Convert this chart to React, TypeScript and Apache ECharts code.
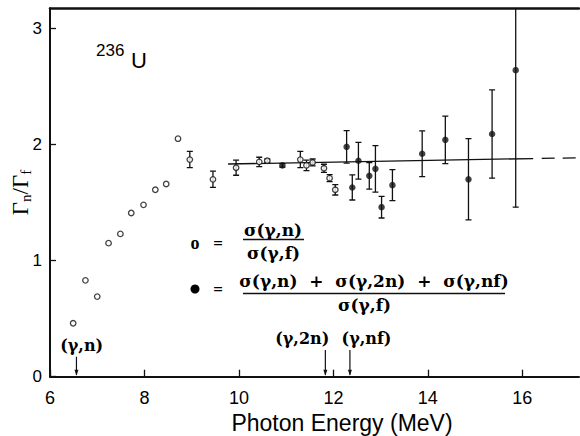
import React, { useEffect, useRef } from "react";
import * as echarts from "echarts";

// Open circles: sigma(g,n)/sigma(g,f)
const openX = [6.49, 6.75, 7.0, 7.24, 7.49, 7.72, 7.98, 8.23, 8.46, 8.71, 8.96, 9.45, 9.94, 10.43, 10.6, 11.3, 11.43, 11.56, 11.8, 11.92, 12.04];
const openY = [0.46, 0.83, 0.69, 1.15, 1.23, 1.41, 1.48, 1.61, 1.66, 2.05, 1.87, 1.7, 1.8, 1.85, 1.86, 1.87, 1.82, 1.845, 1.795, 1.71, 1.61];
const openErr = [0, 0, 0, 0, 0, 0, 0, 0, 0, 0, 0.07, 0.07, 0.065, 0.04, 0.015, 0.07, 0.045, 0.03, 0.035, 0.03, 0.045];

// Filled circles: [sigma(g,n)+sigma(g,2n)+sigma(g,nf)]/sigma(g,f)
const filledX = [10.92, 12.28, 12.4, 12.53, 12.76, 12.89, 13.02, 13.25, 13.88, 14.37, 14.86, 15.36, 15.86];
const filledY = [1.82, 1.98, 1.63, 1.86, 1.73, 1.79, 1.46, 1.65, 1.92, 2.04, 1.7, 2.09, 2.64];
const filledErr = [0.015, 0.14, 0.108, 0.158, 0.115, 0.2, 0.093, 0.134, 0.197, 0.205, 0.35, 0.38, 1.18];

// Fitted line (solid part, dashed extrapolation)
const fitSolid = [[9.77, 1.832], [16.23, 1.879]];
const fitDashed = [[16.41, 1.88], [17.14, 1.885]];

// Threshold annotations
const annoText = ["(γ,n)", "(γ,2n)", "(γ,nf)"];
const annoTextX = [6.67, 11.34, 12.7];
const annoTextY = [0.273, 0.33, 0.33];
const arrowX = [6.56, 11.83, 12.35];
const arrowTop = [0.172, 0.23, 0.23];

const xTicks = [6, 8, 10, 12, 14, 16];
const yTicks = [0, 1, 2, 3];
const X_MIN = 6;
const X_MAX = 17.2;
const Y_MIN = 0;
const Y_MAX = 3.173;

const INK = "#111";
const SERIF_B = "bold 17px 'DejaVu Serif'";

function errRender(params: any, api: any) {
  const x = api.value(0);
  const y = api.value(1);
  const e = api.value(2);
  if (!e) return null;
  const top = api.coord([x, y + e]);
  const bot = api.coord([x, y - e]);
  const w = 3;
  const st = { stroke: INK, lineWidth: 1.3 };
  return {
    type: "group",
    children: [
      { type: "line", shape: { x1: top[0], y1: top[1], x2: bot[0], y2: bot[1] }, style: st },
      { type: "line", shape: { x1: top[0] - w, y1: top[1], x2: top[0] + w, y2: top[1] }, style: st },
      { type: "line", shape: { x1: bot[0] - w, y1: bot[1], x2: bot[0] + w, y2: bot[1] }, style: st },
    ],
  };
}

export default function App() {
  const ref = useRef<HTMLDivElement>(null);
  useEffect(() => {
    if (!ref.current) return;
    const chart = echarts.init(ref.current, null, { renderer: "svg" });
    const openData = openX.map((x, i) => [x, openY[i], openErr[i]]);
    const filledData = filledX.map((x, i) => [x, filledY[i], filledErr[i]]);
    const arrowData = arrowX.map((x, i) => [x, arrowTop[i]]);
    const annoData = annoTextX.map((x, i) => [x, annoTextY[i]]);

    chart.setOption({
      animation: false,
      backgroundColor: "#fff",
      grid: { left: 50, top: 8.3, width: 529, height: 368.4, containLabel: false, outerBoundsMode: "none" },
      xAxis: [
        {
          type: "value",
          min: X_MIN,
          max: X_MAX,
          interval: 2,
          axisLine: { show: true, lineStyle: { color: INK, width: 2 } },
          axisTick: { show: true, inside: true, length: 7, lineStyle: { color: INK, width: 1.3 }, customValues: xTicks },
          axisLabel: {
            show: true,
            customValues: xTicks,
            margin: 12,
            color: "#000",
            fontFamily: "Liberation Sans",
            fontSize: 18,
          },
          splitLine: { show: false },
        },
        {
          type: "value",
          position: "top",
          min: X_MIN,
          max: X_MAX,
          axisLine: { show: true, onZero: false, lineStyle: { color: INK, width: 2.5 } },
          axisTick: { show: false },
          axisLabel: { show: false },
          splitLine: { show: false },
        },
      ],
      yAxis: {
        type: "value",
        min: Y_MIN,
        max: Y_MAX,
        interval: 1,
        name: "{g|Γ}{s|n}{g|/Γ}{s|f}",
        nameLocation: "middle",
        nameGap: 17,
        nameMoveOverlap: false,
        nameRotate: 90,
        nameTextStyle: {
          color: "#000",
          rich: {
            g: { fontFamily: "Liberation Serif", fontSize: 23, color: "#000" },
            s: { fontFamily: "Liberation Serif", fontSize: 15, color: "#000", padding: [10, 0, 0, 0] },
          },
        },
        axisLine: { show: true, lineStyle: { color: INK, width: 2 } },
        axisTick: { show: true, inside: true, length: 6, lineStyle: { color: INK, width: 1.3 }, customValues: yTicks },
        axisLabel: {
          show: true,
          customValues: yTicks,
          margin: 8,
          color: "#000",
          fontFamily: "Liberation Sans",
          fontSize: 17,
        },
        splitLine: { show: false },
      },
      graphic: [
        { type: "text", x: 96, y: 42, style: { text: "236", font: "17px 'Liberation Sans'", fill: "#000" } },
        { type: "text", x: 131, y: 49, style: { text: "U", font: "22px 'Liberation Sans'", fill: "#000" } },
        {
          type: "text",
          x: 342,
          y: 423,
          style: {
            text: "Photon Energy (MeV)",
            font: "23px 'Liberation Sans'",
            fill: "#000",
            align: "center",
            verticalAlign: "middle",
          },
        },
        // Legend
        { type: "text", x: 195, y: 243, style: { text: "o", font: "bold 18px 'Liberation Serif'", fill: "#000", align: "center", verticalAlign: "middle" } },
        { type: "text", x: 218, y: 243, style: { text: "=", font: "bold 17px 'Liberation Serif'", fill: "#000", align: "center", verticalAlign: "middle" } },
        { type: "text", x: 273, y: 230, style: { text: "σ(γ,n)", font: SERIF_B, fill: "#000", align: "center", verticalAlign: "middle" } },
        { type: "line", shape: { x1: 243, y1: 239.5, x2: 304, y2: 239.5 }, style: { stroke: INK, lineWidth: 1.6 } },
        { type: "text", x: 273.5, y: 253, style: { text: "σ(γ,f)", font: SERIF_B, fill: "#000", align: "center", verticalAlign: "middle" } },
        { type: "circle", shape: { cx: 195, cy: 289, r: 4.5 }, style: { fill: "#000" } },
        { type: "text", x: 218, y: 289, style: { text: "=", font: "bold 17px 'Liberation Serif'", fill: "#000", align: "center", verticalAlign: "middle" } },
        {
          type: "text",
          x: 374,
          y: 281,
          style: { text: "σ(γ,n)  +  σ(γ,2n)  +  σ(γ,nf)", font: SERIF_B, fill: "#000", align: "center", verticalAlign: "middle" },
        },
        { type: "line", shape: { x1: 243, y1: 293.5, x2: 505, y2: 293.5 }, style: { stroke: INK, lineWidth: 1.6 } },
        { type: "text", x: 364.5, y: 305, style: { text: "σ(γ,f)", font: SERIF_B, fill: "#000", align: "center", verticalAlign: "middle" } },
      ],
      series: [
        {
          type: "line",
          data: fitSolid,
          symbol: "none",
          lineStyle: { color: INK, width: 1.3 },
          z: 1,
        },
        {
          type: "line",
          data: fitDashed,
          symbol: "none",
          lineStyle: { color: INK, width: 1.3, type: [13, 8] },
          z: 1,
        },
        { type: "custom", data: openData, renderItem: errRender, clip: true, z: 2 },
        { type: "custom", data: filledData, renderItem: errRender, clip: true, z: 2 },
        {
          type: "scatter",
          data: openData.map((d) => [d[0], d[1]]),
          symbol: "circle",
          symbolSize: 5.5,
          itemStyle: { color: "#fff", borderColor: INK, borderWidth: 1.3 },
          z: 3,
        },
        {
          type: "scatter",
          data: filledData.map((d) => [d[0], d[1]]),
          symbol: "circle",
          symbolSize: 6.5,
          itemStyle: { color: INK },
          z: 3,
        },
        {
          type: "custom",
          data: arrowData,
          clip: false,
          renderItem: (params: any, api: any) => {
            const x = api.value(0);
            const t = api.coord([x, api.value(1)]);
            const b = api.coord([x, 0]);
            return {
              type: "group",
              children: [
                { type: "line", shape: { x1: t[0], y1: t[1], x2: b[0], y2: b[1] - 2 }, style: { stroke: INK, lineWidth: 1.2 } },
                {
                  type: "polygon",
                  shape: { points: [[b[0] - 2, b[1] - 7], [b[0] + 2, b[1] - 7], [b[0], b[1] - 1]] },
                  style: { fill: INK },
                },
              ],
            };
          },
          z: 2,
        },
        {
          type: "custom",
          data: annoData,
          clip: false,
          renderItem: (params: any, api: any) => {
            const p = api.coord([api.value(0), api.value(1)]);
            return {
              type: "text",
              x: p[0],
              y: p[1],
              style: {
                text: annoText[params.dataIndex],
                font: "bold 16px 'DejaVu Serif'",
                fill: "#000",
                align: "center",
                verticalAlign: "middle",
              },
            };
          },
          z: 2,
        },
      ],
    });
    return () => chart.dispose();
  }, []);
  return <div ref={ref} style={{ position: "absolute", left: 0, top: 0, width: 580, height: 436 }} />;
}
